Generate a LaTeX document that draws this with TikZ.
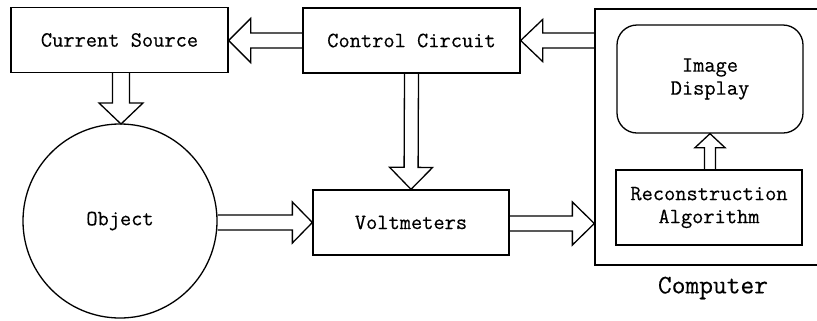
\documentclass[tikz,border=0pt]{standalone}
\usepackage{fontspec}
\newfontfamily\typewriter[FakeBold=0.4]{Latin Modern Mono}
\usetikzlibrary{calc}

\tikzset{
  box/.style={draw, line width=1.3bp, rectangle, inner sep=0pt, align=center,
              font=\typewriter\fontsize{21.8bp}{23bp}\selectfont},
  blk/.style={draw, line width=1.3bp, line join=miter},
}

% hollow block arrow: start, tip, shaft half-width, head half-width, head length
\newcommand\blkarrow[5]{%
  \coordinate (ba-h) at ($(#2)!#5!(#1)$);
  \draw[blk] ($(#1)!#3!90:(#2)$) -- ($(ba-h)!#3!-90:(#1)$)
     -- ($(ba-h)!#4!-90:(#1)$) -- (#2) -- ($(ba-h)!#4!90:(#1)$)
     -- ($(ba-h)!#3!90:(#1)$) -- ($(#1)!#3!-90:(#2)$);
}

\begin{document}
\begin{tikzpicture}[x=1bp, y=-1bp]
  \useasboundingbox (0,0) rectangle (817,320);

  % blocks
  \node[box, minimum width=217bp, minimum height=65bp] (cs) at (119.5,40) {Current Source};
  \node[box, minimum width=217bp, minimum height=65bp] (cc) at (411.5,40.5) {Control Circuit};
  \node[box, circle, minimum size=194bp] (obj) at (120,221) {Object};
  \node[box, minimum width=196bp, minimum height=65bp] (vm) at (411,222.5) {Voltmeters};

  % computer frame, running past the right edge
  \node[box, minimum width=250bp, minimum height=256bp] (comp) at (720,137) {};
  \node[font=\typewriter\fontsize{26.7bp}{28bp}\selectfont, inner sep=0pt] (complabel) at (713,288) {Computer};
  \node[box, rounded corners=20bp, minimum width=186bp, minimum height=108bp] (disp) at (710,79) {Image\\Display};
  \node[box, minimum width=186bp, minimum height=75bp] (rec) at (709,207.5) {Reconstruction\\Algorithm};

  % signal flow
  \coordinate (cs-in) at (cs.east |- cc.west);
  \blkarrow{cc.west}{cs-in}{7.5bp}{22bp}{22bp}
  \coordinate (cs-out) at (121,72.5);
  \coordinate (obj-in) at (121,124);
  \blkarrow{cs-out}{obj-in}{8.5bp}{22bp}{21bp}
  \blkarrow{cc.south}{vm.north}{7bp}{21.5bp}{22bp}
  \coordinate (obj-out) at (obj.east |- vm.west);
  \blkarrow{obj-out}{vm.west}{7.5bp}{20.5bp}{20bp}
  \coordinate (comp-in) at (comp.west |- 0,223.5);
  \coordinate (vm-out) at (vm.east |- comp-in);
  \blkarrow{vm-out}{comp-in}{7.5bp}{21.5bp}{22bp}
  \coordinate (comp-out) at (comp.west |- cc.east);
  \blkarrow{comp-out}{cc.east}{7.5bp}{21bp}{22bp}
  \coordinate (rec-out) at (rec.north -| disp.south);
  \blkarrow{rec-out}{disp.south}{5.5bp}{15bp}{14bp}
\end{tikzpicture}
\end{document}
